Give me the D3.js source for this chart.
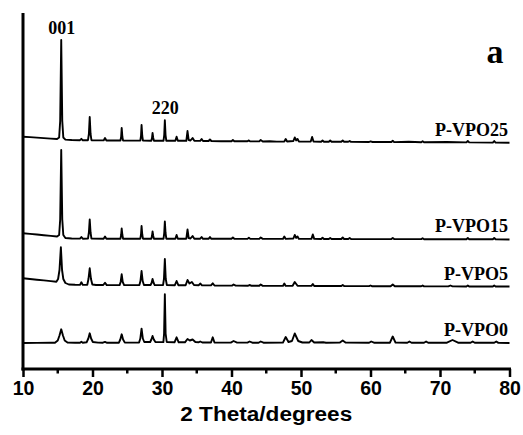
<!DOCTYPE html>
<html>
<head>
<meta charset="utf-8">
<script src="https://cdn.jsdelivr.net/npm/d3@7"></script>
<style>
  html, body { margin: 0; padding: 0; background: #fff; }
  svg { display: block; }
</style>
</head>
<body>
<svg id="chart" width="523" height="435"></svg>
<script>
// XRD patterns of P-VPO samples: [2θ (deg), intensity above the sample's own baseline (a.u.)]
const sampleNames = ["P-VPO0", "P-VPO5", "P-VPO15", "P-VPO25"];
const sampleOffsets = [25.5, 82, 129.5, 226];

const pVPO0 = [
  [10,0.5],[12,0.6],[14,0.7],[14.6,0.8],[15.0,3],[15.25,8],[15.5,14.2],[15.75,8],[16.0,3],[16.4,1],
  [17.5,0.8],[18.2,0.8],[18.4,1.8],[18.6,0.8],[19.15,1.2],[19.4,5],[19.6,10.2],[19.8,5],[20.05,1.5],
  [20.8,0.9],[21.5,0.8],[21.8,1.6],[22.1,0.7],[23.8,0.8],[24.0,4],[24.2,9.2],[24.4,4],[24.65,0.9],
  [26.7,1],[26.88,5],[27.06,14.8],[27.24,5],[27.45,1.5],[28.3,1.5],[28.47,4],[28.64,7.5],[28.82,4],
  [29.05,1.4],[30.2,1.4],[30.3,10],[30.41,49.2],[30.52,10],[30.68,1.5],[31.8,1.2],[32.1,6.2],[32.4,1.2],
  [33.3,1.2],[33.67,4.5],[34.0,3],[34.4,4],[34.8,1.5],[35.3,1.2],[35.5,2],[35.8,1],[37.05,1],[37.3,6.2],
  [37.55,1],[39.9,0.9],[40.3,2.5],[40.8,0.9],[42.3,0.9],[42.6,2],[43,0.8],[43.9,0.8],[44.2,2],[44.6,0.8],
  [47.4,0.9],[47.8,6.5],[48.2,1.5],[48.7,2.5],[49.1,10],[49.6,2.5],[50.2,1],[51.2,1],[51.5,3.5],[51.9,1],
  [53.2,1.2],[53.6,0.8],[55.6,1],[56,3],[56.4,1],[59.8,0.8],[60.1,2],[60.5,0.8],[62.8,0.8],[63.2,7],[63.6,0.9],
  [65.3,0.8],[65.6,2],[65.9,0.8],[67.7,0.8],[68,2],[68.3,0.8],[71.0,0.8],[71.8,3.5],[72.6,0.8],
  [74.4,0.7],[74.7,2],[75,0.7],[77.8,0.7],[78.1,2],[78.4,0.6],[80,0.5]
];

const pVPO5 = [
  [10,8.7],[11,8],[12,7.3],[13,6.6],[14,5.9],[14.8,5.3],[15.05,8],[15.25,17],[15.45,39.7],[15.62,17],
  [15.8,8],[16.1,4],[16.6,2.5],[17.5,2.2],[18.2,2.1],[18.4,4.7],[18.6,2.1],[19.25,2.3],[19.42,8],
  [19.6,18.7],[19.78,8],[19.98,2.5],[20.5,2],[21.55,2],[21.8,4.3],[22.05,1.9],[23.9,1.9],[24.05,5],
  [24.2,12.7],[24.35,5],[24.55,1.9],[26.75,1.9],[26.9,6],[27.06,16],[27.22,6],[27.4,2],[28.35,2],
  [28.5,4],[28.64,8],[28.8,4],[28.95,1.9],[30.15,1.9],[30.28,8],[30.41,28],[30.54,8],[30.7,1.9],
  [31.85,1.8],[32.1,6],[32.35,1.8],[33.4,1.8],[33.67,7],[33.95,3.5],[34.3,5],[34.6,2],[35.3,1.8],
  [35.5,3.5],[35.75,1.6],[37.05,1.6],[37.3,3.7],[37.55,1.5],[40.1,1.4],[40.3,2.5],[40.6,1.4],
  [42.4,1.3],[42.6,2],[42.9,1.2],[44,1.2],[44.2,2.5],[44.5,1.1],[47.4,1.1],[47.6,3.5],[47.8,1.1],
  [48.8,1.2],[49.1,5],[49.5,1.2],[51.5,1.1],[51.7,3],[51.9,1],[55.8,1],[56,2],[56.2,0.9],[59.8,0.9],
  [60,1.5],[60.2,0.8],[62.9,0.8],[63.2,2.5],[63.5,0.7],[67.3,0.7],[67.5,1.5],[67.7,0.6],[71.2,0.6],
  [71.5,1.5],[71.8,0.6],[73.8,0.5],[74,1.5],[74.2,0.5],[77.6,0.5],[77.8,1.5],[78,0.5],[80,0.5]
];

const pVPO15 = [
  [10,6.2],[11,5.6],[12,5],[13,4.3],[14,3.6],[14.9,3],[15.2,4.5],[15.35,20],[15.5,89.5],[15.65,20],
  [15.8,4.5],[16.1,1.5],[17,1],[18.2,0.9],[18.4,2.5],[18.6,0.8],[19.35,0.9],[19.48,7],[19.6,20],
  [19.72,7],[19.85,0.9],[21.6,0.8],[21.8,3],[22,0.8],[24.02,0.8],[24.12,4.5],[24.2,11],[24.3,4.5],
  [24.4,0.8],[26.88,0.8],[26.98,5],[27.06,13.5],[27.16,5],[27.26,0.8],[28.46,0.8],[28.56,3.5],
  [28.64,8],[28.74,3.5],[28.84,0.8],[30.22,0.8],[30.32,6.5],[30.41,18],[30.51,6.5],[30.62,0.8],
  [31.92,0.8],[32.1,4.5],[32.28,0.8],[33.5,0.8],[33.67,10],[33.84,1.5],[34.1,1],[34.4,3.5],[34.65,0.8],
  [35.5,0.8],[35.7,2.5],[35.9,0.7],[36.7,0.7],[36.9,2.5],[37.1,0.7],[40,0.7],[40.2,2],[40.4,0.7],
  [42.3,0.6],[42.5,1.8],[42.7,0.6],[44,0.6],[44.2,2],[44.5,0.6],[47.4,0.6],[47.6,3],[47.8,0.6],
  [48.9,1],[49.1,4.5],[49.3,1.6],[49.5,3],[49.7,0.6],[51.5,0.6],[51.7,5],[51.9,0.6],[52.9,0.5],
  [53.1,1.8],[53.3,0.5],[54.0,0.5],[54.2,1.5],[54.4,0.5],[55.8,0.5],[56,2],[56.2,0.5],[56.8,0.5],
  [57,1.5],[57.2,0.5],[63,0.4],[63.2,1.5],[63.4,0.4],[67.3,0.4],[67.5,1.2],[67.7,0.3],[73.8,0.3],
  [74,1.5],[74.2,0.3],[77.6,0.2],[77.8,1.5],[78,0.2],[80,0]
];

const pVPO25 = [
  [10,6.3],[11,5.9],[12,5.4],[13,4.9],[14,4.4],[14.9,4],[15.2,5.5],[15.35,22],[15.5,103],[15.65,22],
  [15.8,5.5],[16.1,3.4],[17,3],[18.2,2.8],[18.4,4.2],[18.6,2.7],[19.35,2.8],[19.48,9],[19.6,26],
  [19.72,9],[19.85,2.8],[21.6,2.6],[21.8,5],[22,2.5],[24.02,2.5],[24.12,6],[24.2,15],[24.3,6],
  [24.4,2.4],[26.88,2.4],[26.98,7],[27.06,18],[27.16,7],[27.26,2.4],[28.46,2.3],[28.56,5],[28.64,10],
  [28.74,5],[28.84,2.3],[30.22,2.3],[30.32,8],[30.41,22.7],[30.51,8],[30.62,2.2],[31.92,2.2],
  [32.1,6.3],[32.28,2.2],[33.5,2.2],[33.67,12],[33.84,3],[34.1,2.5],[34.4,5],[34.65,2.2],[35.5,2.1],
  [35.7,4],[35.9,2],[36.7,2],[36.9,3.5],[37.1,2],[38.5,1.8],[40.0,1.8],[40.2,3],[40.4,1.8],[42.3,1.7],
  [42.5,2.6],[42.7,1.6],[44,1.6],[44.2,3],[44.5,1.5],[45.5,1.8],[46.5,1.4],[47.6,1.5],[47.8,4],[48,1.5],
  [48.9,2],[49.1,5.5],[49.3,2.6],[49.5,4],[49.7,1.5],[51.4,1.4],[51.6,6],[51.8,1.4],[52.9,1.3],
  [53.1,2.5],[53.3,1.3],[54.0,1.3],[54.2,2.5],[54.4,1.2],[55.8,1.2],[56,2.5],[56.2,1.2],[56.8,1.2],
  [57,2],[57.2,1.1],[59.8,1],[60,1.6],[60.3,1],[63,1],[63.2,2.2],[63.4,0.9],[65.5,1.2],[67.3,0.8],
  [67.5,1.8],[67.7,0.8],[71,1],[73.8,0.6],[74,2],[74.2,0.6],[77.6,0.4],[77.8,2],[78,0.4],[80,0.3]
];

const patterns = [pVPO0, pVPO5, pVPO15, pVPO25];

const xTicks = [10, 20, 30, 40, 50, 60, 70, 80];
const xMinorTicks = [15, 25, 35, 45, 55, 65, 75];
const peakLabels = [
  { text: "001", angle: 15.5 },
  { text: "220", angle: 30.41 }
];
const xTitle = "2 Theta/degrees";
const panelLetter = "a";

// ---- layout ----
const svg = d3.select("#chart");
const plotLeft = 23, plotRight = 509.5, plotTop = 13, plotBottom = 369;

const x = d3.scaleLinear().domain([10, 80]).range([plotLeft, plotRight]);
const y = d3.scaleLinear().domain([0, 356]).range([plotBottom, plotTop]);

const serif = "'Liberation Serif', 'Times New Roman', serif";
const sans = "'Liberation Sans', Arial, sans-serif";

// ---- traces ----
const line = d3.line()
  .x(d => x(d[0]))
  .y(d => y(d[1]));

const traces = svg.append("g");
patterns.forEach((pts, i) => {
  const off = sampleOffsets[i];
  traces.append("path")
    .datum(pts.map(p => [p[0], p[1] + off]))
    .attr("d", line)
    .attr("fill", "none")
    .attr("stroke", "#000")
    .attr("stroke-width", 1.9)
    .attr("stroke-linejoin", "round");

  traces.append("text")
    .attr("x", 508)
    .attr("y", y(off) - 7.5)
    .attr("text-anchor", "end")
    .attr("font-family", serif)
    .attr("font-weight", "bold")
    .attr("font-size", 18)
    .text(sampleNames[i]);
});

// ---- axes ----
const xAxis = d3.axisBottom(x)
  .tickValues(xTicks)
  .tickSize(8)
  .tickPadding(4)
  .tickFormat(d3.format("d"));

const gx = svg.append("g")
  .attr("transform", `translate(0,${plotBottom})`)
  .call(xAxis);
gx.select(".domain")
  .attr("d", `M${plotLeft - 1.5},0H${plotRight + 1.5}`)
  .attr("stroke-width", 3);
gx.selectAll(".tick line").attr("stroke-width", 2.5);
gx.selectAll(".tick text")
  .attr("font-family", sans)
  .attr("font-weight", "bold")
  .attr("font-size", 19.5)
  .attr("fill", "#000");

const gMinor = svg.append("g")
  .attr("transform", `translate(0,${plotBottom})`);
gMinor.selectAll("line")
  .data(xMinorTicks)
  .join("line")
  .attr("x1", d => x(d)).attr("x2", d => x(d))
  .attr("y1", 0).attr("y2", 4.5)
  .attr("stroke", "#000")
  .attr("stroke-width", 2.5);

const gy = svg.append("g")
  .attr("transform", `translate(${plotLeft},0)`)
  .call(d3.axisLeft(y).tickValues([]).tickSizeOuter(0));
gy.select(".domain")
  .attr("d", `M0,${plotTop}V${plotBottom + 1.5}`)
  .attr("stroke-width", 3);

// axis title
svg.append("text")
  .attr("x", (plotLeft + plotRight) / 2)
  .attr("y", 421)
  .attr("text-anchor", "middle")
  .attr("font-family", sans)
  .attr("font-weight", "bold")
  .attr("font-size", 20)
  .attr("textLength", 172)
  .attr("lengthAdjust", "spacingAndGlyphs")
  .text(xTitle);

// ---- annotations ----
const topTrace = pVPO25;
const topOffset = sampleOffsets[3];
peakLabels.forEach(p => {
  const peak = topTrace.reduce((a, b) => Math.abs(b[0] - p.angle) < Math.abs(a[0] - p.angle) ? b : a);
  svg.append("text")
    .attr("x", x(p.angle) + 0.5)
    .attr("y", y(peak[1] + topOffset) - 6)
    .attr("text-anchor", "middle")
    .attr("font-family", serif)
    .attr("font-weight", "bold")
    .attr("font-size", 18)
    .text(p.text);
});

svg.append("text")
  .attr("x", 495)
  .attr("y", 63)
  .attr("text-anchor", "middle")
  .attr("font-family", serif)
  .attr("font-weight", "bold")
  .attr("font-size", 34)
  .text(panelLetter);
</script>
</body>
</html>
